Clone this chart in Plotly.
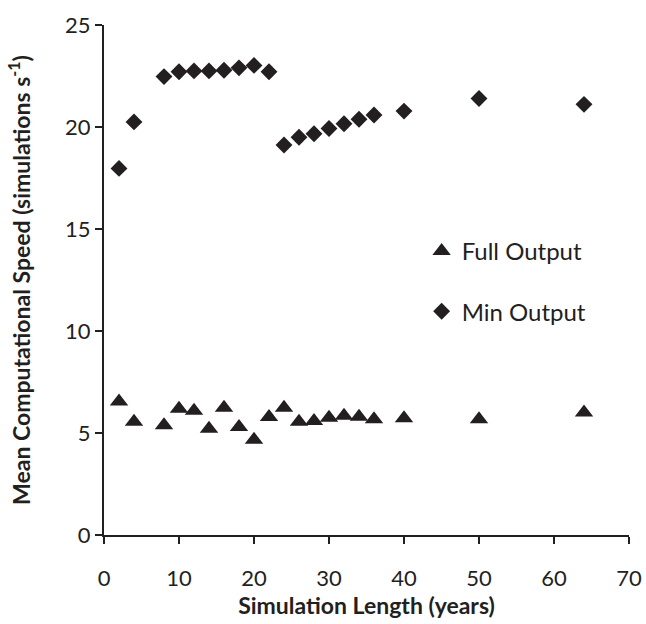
import plotly.graph_objects as go

years = [2, 4, 8, 10, 12, 14, 16, 18, 20, 22, 24, 26, 28, 30, 32, 34, 36, 40, 50, 64]
full_output = [6.55, 5.55, 5.38, 6.19, 6.09, 5.21, 6.24, 5.29, 4.67, 5.78,
               6.24, 5.55, 5.59, 5.75, 5.85, 5.8, 5.67, 5.72, 5.67, 6.0]
min_output = [17.97, 20.25, 22.47, 22.71, 22.75, 22.75, 22.78, 22.9, 23.02, 22.71,
              19.12, 19.5, 19.67, 19.93, 20.16, 20.38, 20.59, 20.78, 21.4, 21.11]

ink = "#231f20"
font = "Lato, 'Open Sans', sans-serif"

fig = go.Figure()
fig.add_trace(go.Scatter(
    x=years, y=full_output, mode="markers", name="Full Output",
    marker=dict(symbol="triangle-up", size=16, color=ink),
    legendgroup="full", showlegend=True
))
fig.add_trace(go.Scatter(
    x=years, y=min_output, mode="markers", name="Min Output",
    marker=dict(symbol="diamond", size=13, color=ink),
    legendgroup="min", showlegend=True
))

fig.update_layout(
    width=646, height=624,
    margin=dict(l=104, r=17, t=25, b=89),
    plot_bgcolor="white", paper_bgcolor="white",
    font=dict(family=font, size=22, color=ink),
    showlegend=True,
    legend=dict(x=0.605, y=0.60, xanchor="left", yanchor="top",
                font=dict(size=24), bgcolor="rgba(0,0,0,0)",
                itemwidth=30, tracegroupgap=26),
)
fig.update_xaxes(
    range=[0, 70], dtick=10, showgrid=False, zeroline=False, automargin=False,
    showline=True, linecolor=ink, linewidth=2,
    ticks="outside", ticklen=7, tickwidth=2, tickcolor=ink,
    ticklabelstandoff=16, ticklabeloverflow="allow",
    title=dict(text="<b>Simulation Length (years)</b>", font=dict(size=23), standoff=5),
)
fig.update_yaxes(
    range=[0, 25], dtick=5, showgrid=False, zeroline=False, automargin=False,
    showline=True, linecolor=ink, linewidth=2,
    ticks="outside", ticklen=7, tickwidth=2, tickcolor=ink,
    title=dict(text="<b>Mean Computational Speed (simulations s<sup>-1</sup>)</b>",
               font=dict(size=23), standoff=28),
)

# drop the page's default 8px body margin so the figure fills the window
fig.write_html("out.html", config={"displayModeBar": False},
               post_script="document.body.style.margin='0';")
